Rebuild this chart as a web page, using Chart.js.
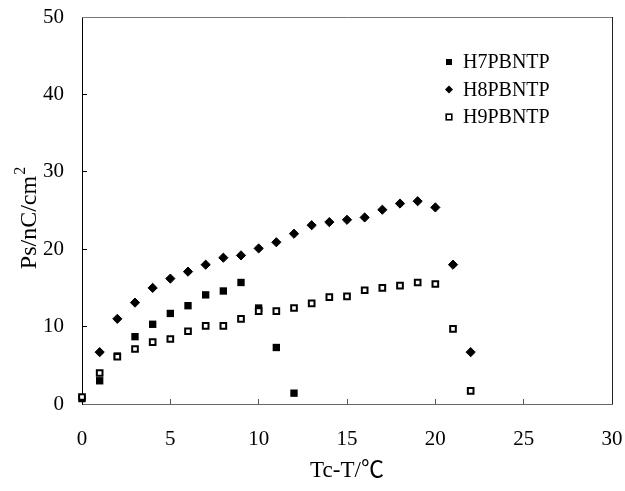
<!DOCTYPE html>
<html>
<head>
<meta charset="utf-8">
<script src="https://cdn.jsdelivr.net/npm/chart.js@4.4.0/dist/chart.umd.min.js"></script>
<style>
	html, body { margin: 0; padding: 0; background: #fff; }
	#wrap { width: 625px; height: 491px; }
</style>
</head>
<body>
<div id="wrap"><canvas id="psChart"></canvas></div>
<script>
/***************************** 데이터 *****************************/
var labelNames = ['H7PBNTP', 'H8PBNTP', 'H9PBNTP']

// Tc-T (x)
var h7X = [0, 1, 2, 3, 4, 5, 6, 7, 8, 9, 10, 11, 12]
var h8X = [1, 2, 3, 4, 5, 6, 7, 8, 9, 10, 11, 12, 13, 14, 15, 16, 17, 18, 19, 20, 21, 22]
var h9X = [0, 1, 2, 3, 4, 5, 6, 7, 8, 9, 10, 11, 12, 13, 14, 15, 16, 17, 18, 19, 20, 21, 22]

// Ps (y)
var h7Y = [0.7, 3.0, 6.2, 8.7, 10.3, 11.7, 12.7, 14.1, 14.6, 15.7, 12.4, 7.3, 1.4]
var h8Y = [6.7, 11.0, 13.1, 15.0, 16.2, 17.1, 18.0, 18.9, 19.2, 20.1, 20.9, 22.0, 23.1, 23.5, 23.8, 24.1, 25.1, 25.9, 26.2, 25.4, 18.0, 6.7]
var h9Y = [0.9, 4.0, 6.1, 7.1, 8.0, 8.4, 9.4, 10.1, 10.1, 11.0, 12.0, 12.0, 12.4, 13.0, 13.8, 13.9, 14.7, 15.0, 15.3, 15.7, 15.5, 9.7, 1.7]

// 축 눈금
var xTicks = [0, 5, 10, 15, 20, 25, 30]
var yTicks = [0, 10, 20, 30, 40, 50]

var serif = "'Liberation Serif', 'Noto Sans CJK SC', serif"

function toPoints(xs, ys) {
	var pts = []
	for (var i = 0; i < xs.length; i++) {
		pts.push({ x: xs[i], y: ys[i] })
	}
	return pts
}

function setTicks(list) {
	return function(scale) {
		scale.ticks = list.map(function(v) { return { value: v } })
	}
}

/***************************** 테두리 / y축 제목 / 범례 *****************************/
var extras = {
	id: 'extras',
	beforeDatasetsDraw: function(chart) {
		var a = chart.chartArea
		var ctx = chart.ctx
		ctx.save()
		ctx.strokeStyle = '#777'
		ctx.lineWidth = 1
		ctx.beginPath()
		ctx.moveTo(a.left, a.top + 0.5)
		ctx.lineTo(a.right + 0.5, a.top + 0.5)
		ctx.stroke()
		ctx.strokeStyle = '#222'
		ctx.beginPath()
		ctx.moveTo(a.right + 0.5, a.top)
		ctx.lineTo(a.right + 0.5, a.bottom)
		ctx.stroke()
		ctx.restore()
	},
	afterDraw: function(chart) {
		var ctx = chart.ctx
		var a = chart.chartArea
		ctx.save()

		// y축 제목 (위첨자 2 따로)
		var main = 'Ps/nC/cm'
		ctx.font = '24px ' + serif
		var w1 = ctx.measureText(main).width
		ctx.font = '16px ' + serif
		var w2 = ctx.measureText('2').width
		ctx.translate(28, (a.top + a.bottom) / 2 + 8)
		ctx.rotate(-Math.PI / 2)
		ctx.fillStyle = '#000'
		ctx.textAlign = 'left'
		ctx.textBaseline = 'alphabetic'
		var sx = -(w1 + w2) / 2
		ctx.font = '24px ' + serif
		ctx.fillText(main, sx, 8)
		ctx.font = '16px ' + serif
		ctx.fillText('2', sx + w1 + 1, -3)
		ctx.setTransform(1, 0, 0, 1, 0, 0)

		// 범례
		var rows = [62, 89.5, 117]
		var mx = 449
		ctx.font = '20px ' + serif
		ctx.textAlign = 'left'
		ctx.textBaseline = 'middle'
		for (var i = 0; i < labelNames.length; i++) {
			var y = rows[i]
			ctx.fillStyle = '#000'
			ctx.strokeStyle = '#000'
			if (i == 0) {
				ctx.fillRect(mx - 3, y - 3, 6, 6)
			} else if (i == 1) {
				ctx.beginPath()
				ctx.moveTo(mx, y - 4)
				ctx.lineTo(mx + 4, y)
				ctx.lineTo(mx, y + 4)
				ctx.lineTo(mx - 4, y)
				ctx.closePath()
				ctx.fill()
			} else {
				ctx.lineWidth = 1.6
				ctx.strokeRect(mx - 2.8, y - 2.8, 5.6, 5.6)
			}
			ctx.fillStyle = '#000'
			ctx.fillText(labelNames[i], 463, y + 1)
		}
		ctx.restore()
	}
}

/***************************** 차트 생성 *****************************/
var chartArea = document.getElementById('psChart').getContext('2d')

var psChart = new Chart(chartArea, {
	type: 'scatter',
	data: {
		datasets: [{
			label: labelNames[0],
			data: toPoints(h7X, h7Y),
			pointStyle: 'rect',
			pointRadius: 5.2,
			backgroundColor: '#000',
			borderColor: '#000',
			borderWidth: 0,
			clip: false,
			order: 2
		}, {
			label: labelNames[1],
			data: toPoints(h8X, h8Y),
			pointStyle: 'rectRot',
			pointRadius: 4.6,
			backgroundColor: '#000',
			borderColor: '#000',
			borderWidth: 1,
			clip: false,
			order: 1
		}, {
			label: labelNames[2],
			data: toPoints(h9X, h9Y),
			pointStyle: 'rect',
			pointRadius: 4,
			backgroundColor: '#fff',
			borderColor: '#000',
			borderWidth: 2,
			clip: false,
			order: 0
		}]
	},
	options: {
		responsive: true,
		maintainAspectRatio: false,
		animation: false,
		events: [],
		layout: {
			padding: { left: 0, right: 13, top: 17, bottom: 0 }
		},
		plugins: {
			legend: { display: false },
			tooltip: { enabled: false }
		},
		scales: {
			x: {
				type: 'linear',
				min: 0,
				max: 30,
				afterBuildTicks: setTicks(xTicks),
				afterFit: function(s) {
					s.height = 87
					s.paddingLeft = 0
					s.paddingRight = 0
				},
				grid: { drawOnChartArea: false, drawTicks: true, tickLength: -5, color: '#555' },
				border: { color: '#666', width: 1 },
				ticks: {
					color: '#000',
					padding: 28,
					maxRotation: 0,
					font: { family: serif, size: 21 }
				},
				title: {
					display: true,
					text: 'Tc-T/℃',
					color: '#000',
					padding: { top: 0, bottom: 6 },
					font: { family: serif, size: 23 }
				}
			},
			y: {
				type: 'linear',
				min: 0,
				max: 50,
				afterBuildTicks: setTicks(yTicks),
				afterFit: function(s) {
					s.width = 82
					s.paddingTop = 0
					s.paddingBottom = 0
				},
				grid: { drawOnChartArea: false, drawTicks: true, tickLength: -5, color: '#000' },
				border: { color: '#000', width: 1 },
				ticks: {
					color: '#000',
					padding: 23,
					font: { family: serif, size: 21 }
				}
			}
		}
	},
	plugins: [extras]
})
</script>
</body>
</html>
